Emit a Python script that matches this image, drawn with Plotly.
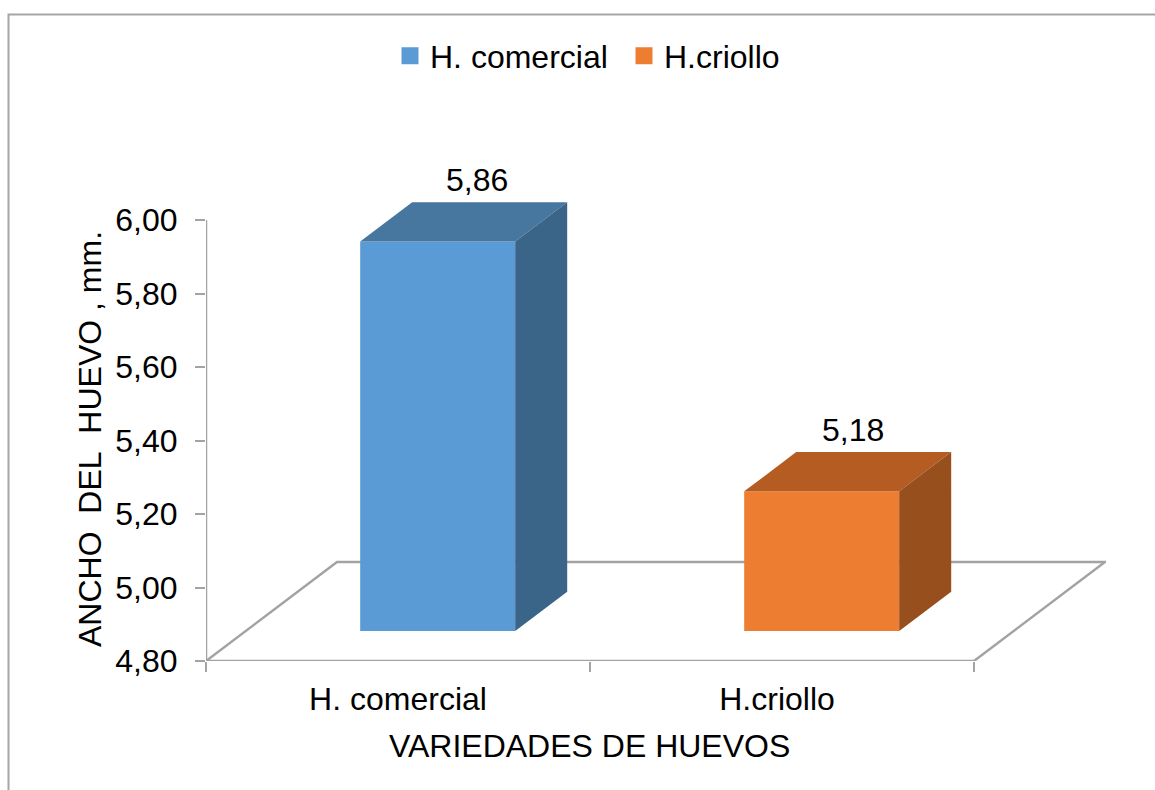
import plotly.graph_objects as go

# Chart data
categories = ["H. comercial", "H.criollo"]
values = [5.86, 5.18]
tick_values = [4.8, 5.0, 5.2, 5.4, 5.6, 5.8, 6.0]
tick_labels = ["4,80", "5,00", "5,20", "5,40", "5,60", "5,80", "6,00"]

WIDTH, HEIGHT = 1155, 790
FONT = "Liberation Sans, Arial, sans-serif"
TEXT_SIZE = 32
GRAY = "#A3A3A3"
LINE_WIDTH = 2.5

# Plot frame in page pixels; one category spans 384 px, one axis unit 367.5 px
LEFT, RIGHT, BOTTOM, TOP = 206, 1106, 661, 150
CAT_PX = 384
UNIT_PX = 441 / 1.2
AXIS_MIN = 4.8
AXIS_MAX = 6.0

# Oblique projection used for the fake depth of the floor and the columns
DEPTH_X = 131 / CAT_PX
DEPTH_Y = 99 / UNIT_PX
FRONT = 0.303
BACK = 0.70
BAR_WIDTH = 155 / CAT_PX

PALETTE = [
    {"front": "#5B9BD5", "top": "#47769F", "side": "#3A6488", "label_dx": -13, "tick_dx": 0},
    {"front": "#ED7D31", "top": "#B55C23", "side": "#964F1D", "label_dx": -21, "tick_dx": -5},
]


def project(x, y, depth):
    return x + depth * DEPTH_X, y + depth * DEPTH_Y


fig = go.Figure()
annotations = []

for i, (name, value, style) in enumerate(zip(categories, values, PALETTE)):
    center = i + 0.5
    x_front, base = project(center, AXIS_MIN, FRONT)

    fig.add_trace(go.Bar(
        x=[x_front], y=[value - AXIS_MIN], base=[base], width=[BAR_WIDTH],
        marker=dict(color=style["front"], line=dict(width=0)),
        showlegend=False,
    ))

    half = BAR_WIDTH / 2
    fl = project(center - half, value, FRONT)
    fr = project(center + half, value, FRONT)
    bl = project(center - half, value, BACK)
    br = project(center + half, value, BACK)
    lr_front = project(center + half, AXIS_MIN, FRONT)
    lr_back = project(center + half, AXIS_MIN, BACK)

    # Top face of the column
    fig.add_trace(go.Scatter(
        x=[fl[0], fr[0], br[0], bl[0], fl[0]],
        y=[fl[1], fr[1], br[1], bl[1], fl[1]],
        mode="lines", fill="toself", fillcolor=style["top"],
        line=dict(width=0), showlegend=False, hoverinfo="skip",
    ))
    # Right-hand face of the column
    fig.add_trace(go.Scatter(
        x=[fr[0], br[0], lr_back[0], lr_front[0], fr[0]],
        y=[fr[1], br[1], lr_back[1], lr_front[1], fr[1]],
        mode="lines", fill="toself", fillcolor=style["side"],
        line=dict(width=0), showlegend=False, hoverinfo="skip",
    ))

    # Legend entry: the stroke enlarges the fixed-size bar swatch
    fig.add_trace(go.Bar(
        x=[None], y=[None], name=name,
        marker=dict(color=style["front"], line=dict(color=style["front"], width=5)),
    ))

    back_center = project(center, value, BACK)
    annotations.append(dict(
        x=back_center[0], y=back_center[1], xref="x", yref="y",
        text=f"{value:.2f}".replace(".", ","), showarrow=False,
        xanchor="center", yanchor="middle",
        xshift=style["label_dx"], yshift=22,
        font=dict(family=FONT, size=TEXT_SIZE, color="#000000"),
    ))

annotations.append(dict(
    x=589 / WIDTH, y=1 - 746 / HEIGHT, xref="paper", yref="paper",
    text="VARIEDADES DE HUEVOS", showarrow=False,
    xanchor="center", yanchor="middle",
    font=dict(family=FONT, size=TEXT_SIZE, color="#000000"),
))
annotations.append(dict(
    x=90 / WIDTH, y=1 - 439 / HEIGHT, xref="paper", yref="paper",
    text="ANCHO\u00a0 DEL\u00a0 HUEVO , mm.", showarrow=False, textangle=-90,
    xanchor="center", yanchor="middle",
    font=dict(family=FONT, size=TEXT_SIZE, color="#000000"),
))

# Floor parallelogram and value axis line sit behind the columns
x_max = (RIGHT - LEFT) / CAT_PX
n_cat = len(categories)
floor_x = [0, n_cat, n_cat + DEPTH_X, DEPTH_X, 0]
floor_y = [AXIS_MIN, AXIS_MIN, AXIS_MIN + DEPTH_Y, AXIS_MIN + DEPTH_Y, AXIS_MIN]
floor_path = "M " + " L ".join(f"{a},{b}" for a, b in zip(floor_x, floor_y)) + " Z"
shapes = [
    dict(type="path", path=floor_path, xref="x", yref="y", layer="below",
         line=dict(color=GRAY, width=LINE_WIDTH)),
    dict(type="line", x0=0, x1=0, y0=AXIS_MIN, y1=AXIS_MAX, xref="x", yref="y",
         layer="below", line=dict(color=GRAY, width=LINE_WIDTH)),
    # Outer chart border, open towards the right and bottom page edges
    dict(type="path", xref="paper", yref="paper",
         path=f"M {8.5 / WIDTH},0 L {8.5 / WIDTH},{1 - 14.5 / HEIGHT} L 1,{1 - 14.5 / HEIGHT}",
         line=dict(color="#A6A6A6", width=2)),
]

fig.update_layout(
    width=WIDTH, height=HEIGHT,
    margin=dict(l=0, r=0, t=0, b=0, autoexpand=False),
    paper_bgcolor="#FFFFFF", plot_bgcolor="#FFFFFF",
    barmode="overlay",
    font=dict(family=FONT, size=TEXT_SIZE, color="#000000"),
    xaxis=dict(
        domain=[LEFT / WIDTH, RIGHT / WIDTH],
        range=[0, x_max],
        tickmode="array",
        tickvals=[i + 0.5 + s["tick_dx"] / CAT_PX for i, s in enumerate(PALETTE)],
        ticktext=categories,
        ticks="", showgrid=False, zeroline=False, showline=False,
        ticklabelstandoff=16,
        minor=dict(tickmode="array", tickvals=list(range(n_cat + 1)),
                   ticks="outside", ticklen=10, tickwidth=2, tickcolor=GRAY, showgrid=False),
    ),
    yaxis=dict(
        domain=[1 - BOTTOM / HEIGHT, 1 - TOP / HEIGHT],
        range=[AXIS_MIN, AXIS_MIN + (BOTTOM - TOP) / UNIT_PX],
        tickmode="array", tickvals=tick_values, ticktext=tick_labels,
        ticks="outside", ticklen=10, tickwidth=2, tickcolor=GRAY,
        showgrid=False, zeroline=False, showline=False,
        ticklabelstandoff=11,
    ),
    legend=dict(
        orientation="h", x=390 / WIDTH, y=1 - 56 / HEIGHT,
        xanchor="left", yanchor="middle",
        entrywidth=189, entrywidthmode="pixels",
        bgcolor="rgba(0,0,0,0)",
        font=dict(family=FONT, size=TEXT_SIZE, color="#000000"),
    ),
    annotations=annotations,
    shapes=shapes,
)

fig.write_html("out.html", config={"displayModeBar": False})
